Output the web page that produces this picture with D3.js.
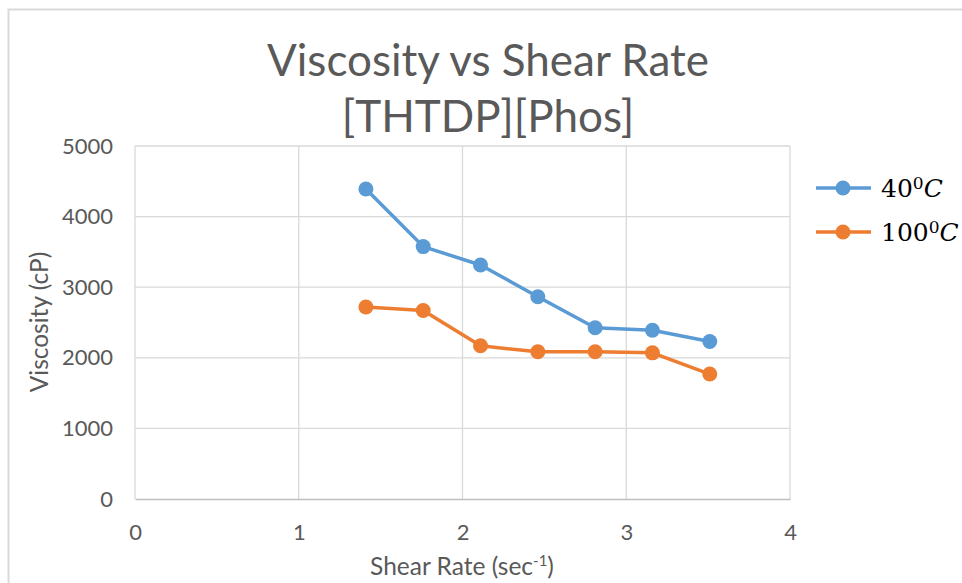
<!DOCTYPE html>
<html>
<head>
<meta charset="utf-8">
<script src="https://cdn.jsdelivr.net/npm/d3@7"></script>
<style>
  body { margin: 0; background: #fff; }
  svg { display: block; }
</style>
</head>
<body>
<svg id="chart" width="962" height="583"></svg>
<script>
// values
const shearRate = [1.41, 1.76, 2.11, 2.46, 2.81, 3.16, 3.51];
const visc40 = [4390, 3575, 3315, 2865, 2425, 2390, 2230];
const visc100 = [2720, 2670, 2170, 2085, 2085, 2070, 1770];
const seriesNames = ["40", "100"]; // shown as 40^0 C / 100^0 C
const seriesColors = ["#5b9bd5", "#ed7d31"];
const xTicks = [0, 1, 2, 3, 4];
const yTicks = [0, 1000, 2000, 3000, 4000, 5000];

const svg = d3.select("#chart");
const font = "Lato, 'Open Sans', sans-serif";

// outer chart frame (light grey border)
svg.append("rect")
  .attr("x", 8.5).attr("y", 9.5)
  .attr("width", 970).attr("height", 600)
  .attr("fill", "#fff")
  .attr("stroke", "#d9d9d9")
  .attr("stroke-width", 2);

const plot = { left: 135, right: 790, top: 146, bottom: 499 };

const x = d3.scaleLinear().domain([0, 4]).range([plot.left, plot.right]);
const y = d3.scaleLinear().domain([0, 5000]).range([plot.bottom, plot.top]);

// gridlines
svg.append("g")
  .selectAll("line")
  .data(yTicks.filter(d => d > 0))
  .enter().append("line")
  .attr("x1", plot.left).attr("x2", plot.right)
  .attr("y1", d => y(d)).attr("y2", d => y(d))
  .attr("stroke", "#d9d9d9").attr("stroke-width", 1.3);

svg.append("g")
  .selectAll("line")
  .data(xTicks)
  .enter().append("line")
  .attr("x1", d => x(d)).attr("x2", d => x(d))
  .attr("y1", plot.top).attr("y2", plot.bottom)
  .attr("stroke", "#d9d9d9").attr("stroke-width", 1.3);

// x axis: bottom line + tick labels
const xAxis = svg.append("g")
  .attr("transform", "translate(0," + plot.bottom + ")")
  .call(d3.axisBottom(x).tickValues(xTicks).tickSize(0).tickPadding(25).tickFormat(d3.format("d")));
xAxis.select(".domain").attr("stroke", "#bfbfbf").attr("stroke-width", 1.3);
xAxis.attr("font-family", font).attr("font-size", 22);
xAxis.selectAll("text").attr("fill", "#595959");

// y axis: labels only
const yAxis = svg.append("g")
  .attr("transform", "translate(" + plot.left + ",0)")
  .call(d3.axisLeft(y).tickValues(yTicks).tickSize(0).tickPadding(22).tickFormat(d3.format("d")));
yAxis.select(".domain").remove();
yAxis.attr("font-family", font).attr("font-size", 22);
yAxis.selectAll("text").attr("fill", "#595959");

// lines + markers
const allSeries = [visc40, visc100];
const line = d3.line()
  .x((d, i) => x(shearRate[i]))
  .y(d => y(d));

allSeries.forEach(function (vals, k) {
  svg.append("path")
    .datum(vals)
    .attr("d", line)
    .attr("fill", "none")
    .attr("stroke", seriesColors[k])
    .attr("stroke-width", 3.5)
    .attr("stroke-linejoin", "round");

  svg.append("g")
    .selectAll("circle")
    .data(vals)
    .enter().append("circle")
    .attr("cx", (d, i) => x(shearRate[i]))
    .attr("cy", d => y(d))
    .attr("r", 7.5)
    .attr("fill", seriesColors[k]);
});

// title
const title = svg.append("text")
  .attr("text-anchor", "middle")
  .attr("font-family", font)
  .attr("font-size", 44)
  .attr("fill", "#595959");
title.append("tspan").attr("x", 488).attr("y", 76).text("Viscosity vs Shear Rate");
title.append("tspan").attr("x", 488).attr("y", 132).text("[THTDP][Phos]");

// axis titles
svg.append("text")
  .attr("x", 462).attr("y", 575)
  .attr("text-anchor", "middle")
  .attr("font-family", font).attr("font-size", 24.5).attr("fill", "#595959")
  .html('Shear Rate (sec<tspan dy="-9" font-size="15">-1</tspan><tspan dy="9">)</tspan>');

svg.append("text")
  .attr("transform", "translate(48,322) rotate(-90)")
  .attr("text-anchor", "middle")
  .attr("font-family", font).attr("font-size", 24.5).attr("fill", "#595959")
  .text("Viscosity (cP)");

// legend
const legend = svg.append("g");
seriesNames.forEach(function (name, k) {
  const ly = 188 + k * 44;
  legend.append("line")
    .attr("x1", 816).attr("x2", 871)
    .attr("y1", ly).attr("y2", ly)
    .attr("stroke", seriesColors[k]).attr("stroke-width", 3.5);
  legend.append("circle")
    .attr("cx", 843).attr("cy", ly).attr("r", 7.5)
    .attr("fill", seriesColors[k]);
  const t = legend.append("text")
    .attr("x", 881).attr("y", ly + 9)
    .attr("font-family", "'DejaVu Serif', 'Liberation Serif', serif")
    .attr("font-size", 25).attr("fill", "#000");
  t.append("tspan").text(name);
  t.append("tspan").attr("dy", -8).attr("font-size", 17).text("0");
  t.append("tspan").attr("dy", 8).attr("font-style", "italic").text("C");
});
</script>
</body>
</html>
